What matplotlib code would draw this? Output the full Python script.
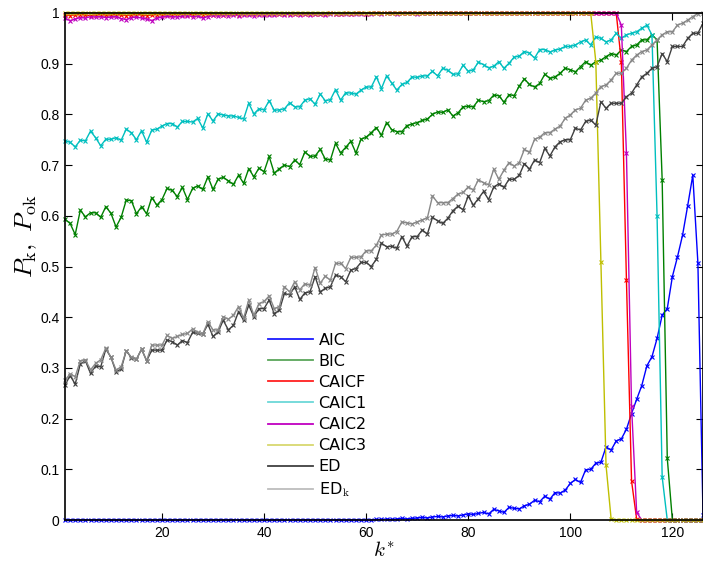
import numpy as np
import matplotlib
matplotlib.use('Agg')
import matplotlib.pyplot as plt
from matplotlib.lines import Line2D

plt.rcParams['mathtext.fontset'] = 'cm'

k = np.arange(1, 127)

aic = ([0.0] * 60 +
       [0.0, 0.001, 0.001, 0.002, 0.001, 0.002, 0.003, 0.002, 0.003, 0.004, 0.005,
        0.004, 0.006, 0.007, 0.006, 0.008, 0.009, 0.008, 0.010, 0.012, 0.011, 0.013,
        0.015, 0.012, 0.021, 0.018, 0.015, 0.025, 0.023, 0.022, 0.028, 0.031,
        0.039, 0.036, 0.047, 0.041, 0.054, 0.053, 0.059, 0.072, 0.080, 0.074,
        0.099, 0.100, 0.112, 0.114, 0.144, 0.138, 0.156, 0.160, 0.179, 0.210,
        0.238, 0.265, 0.304, 0.322, 0.358, 0.404, 0.417, 0.480, 0.519, 0.562,
        0.620, 0.680, 0.507, 0.010])

bic = [0.593, 0.585, 0.563, 0.611, 0.598, 0.606, 0.606, 0.597, 0.618, 0.605, 0.578,
       0.597, 0.631, 0.630, 0.604, 0.618, 0.604, 0.636, 0.621, 0.632, 0.654, 0.650,
       0.638, 0.656, 0.632, 0.654, 0.659, 0.652, 0.677, 0.652, 0.672, 0.676, 0.669,
       0.662, 0.680, 0.664, 0.693, 0.677, 0.694, 0.687, 0.717, 0.684, 0.693, 0.700,
       0.697, 0.710, 0.701, 0.726, 0.717, 0.718, 0.731, 0.712, 0.710, 0.743, 0.724,
       0.735, 0.747, 0.724, 0.751, 0.755, 0.764, 0.774, 0.759, 0.784, 0.770,
       0.766, 0.766, 0.778, 0.781, 0.784, 0.788, 0.791, 0.800, 0.805, 0.804, 0.809,
       0.797, 0.803, 0.815, 0.816, 0.815, 0.828, 0.825, 0.827, 0.838, 0.837, 0.824,
       0.839, 0.837, 0.856, 0.870, 0.859, 0.854, 0.861, 0.879, 0.871, 0.874, 0.881,
       0.891, 0.888, 0.884, 0.894, 0.904, 0.897, 0.904, 0.907, 0.914, 0.920, 0.917,
       0.927, 0.924, 0.934, 0.937, 0.947, 0.947, 0.957, 0.947,
       0.671, 0.122, 0, 0, 0, 0, 0, 0, 0]

caicf = ([0.996, 0.995, 0.996, 0.997, 0.996, 0.995, 0.996, 0.997, 0.996, 0.996,
          0.997, 0.996, 0.995, 0.996, 0.997, 0.996, 0.995, 0.996, 0.997, 0.997,
          0.996, 0.997, 0.998, 0.997, 0.996, 0.997, 0.998, 0.997, 0.998, 0.997,
          0.998, 0.997, 0.998, 0.998, 0.997, 0.998, 0.999, 0.998, 0.998, 0.999,
          0.998, 0.999, 0.998, 0.999, 0.999, 0.998, 0.999, 0.999, 0.999, 0.999,
          0.999, 0.999, 1.0, 0.999, 0.999, 1.0, 0.999, 1.0, 1.0, 0.999] +
         [1.0] * 49 +
         [0.904, 0.473, 0.077, 0.002] + [0.0] * 13)

caic1 = [0.748, 0.745, 0.736, 0.749, 0.748, 0.767, 0.754, 0.738, 0.751, 0.751, 0.754,
         0.749, 0.771, 0.764, 0.750, 0.768, 0.745, 0.769, 0.771, 0.777, 0.782, 0.782,
         0.775, 0.786, 0.786, 0.785, 0.792, 0.773, 0.801, 0.787, 0.801, 0.799, 0.797,
         0.797, 0.794, 0.791, 0.822, 0.801, 0.811, 0.809, 0.827, 0.808, 0.809, 0.811,
         0.823, 0.815, 0.815, 0.828, 0.831, 0.820, 0.840, 0.827, 0.829, 0.849, 0.828,
         0.843, 0.842, 0.840, 0.848, 0.854, 0.854, 0.874, 0.851, 0.876, 0.862,
         0.848, 0.859, 0.863, 0.874, 0.873, 0.876, 0.876, 0.885, 0.876, 0.891, 0.887,
         0.879, 0.880, 0.897, 0.885, 0.888, 0.903, 0.898, 0.892, 0.895, 0.904, 0.891,
         0.901, 0.913, 0.915, 0.924, 0.921, 0.911, 0.928, 0.928, 0.923, 0.927, 0.929,
         0.934, 0.934, 0.937, 0.943, 0.947, 0.937, 0.953, 0.950, 0.943, 0.947, 0.960,
         0.950, 0.957, 0.960, 0.963, 0.970, 0.976, 0.957,
         0.600, 0.085, 0, 0, 0, 0, 0, 0, 0, 0]

caic2 = ([0.990, 0.985, 0.988, 0.991, 0.990, 0.993, 0.992, 0.993, 0.991, 0.992,
          0.993, 0.989, 0.987, 0.991, 0.992, 0.990, 0.988, 0.985, 0.990, 0.992,
          0.994, 0.993, 0.992, 0.994, 0.995, 0.993, 0.994, 0.990, 0.993, 0.996,
          0.994, 0.996, 0.995, 0.996, 0.995, 0.997, 0.996, 0.995, 0.997, 0.996,
          0.997, 0.996, 0.998, 0.997, 0.997, 0.998, 0.997, 0.998, 0.997, 0.998,
          0.998, 0.997, 0.998, 0.999, 0.998, 0.998, 0.999, 0.998, 0.999, 0.999] +
         [0.999, 1.0, 0.999, 1.0, 1.0, 0.999, 1.0, 1.0, 1.0, 0.999] +
         [1.0] * 39 +
         [0.976, 0.723, 0.224, 0.015] + [0.0] * 13)

caic3 = [1.0] * 104 + [0.904, 0.508, 0.108, 0.002] + [0.0] * 18

ed = [0.266, 0.285, 0.268, 0.308, 0.314, 0.289, 0.304, 0.302, 0.337, 0.321, 0.292,
      0.298, 0.334, 0.320, 0.317, 0.337, 0.314, 0.335, 0.335, 0.335, 0.355, 0.352,
      0.345, 0.354, 0.350, 0.370, 0.368, 0.367, 0.386, 0.362, 0.371, 0.394, 0.375,
      0.384, 0.411, 0.394, 0.424, 0.401, 0.417, 0.417, 0.434, 0.407, 0.414, 0.447,
      0.444, 0.460, 0.435, 0.448, 0.450, 0.480, 0.450, 0.457, 0.460, 0.483, 0.480,
      0.470, 0.493, 0.496, 0.508, 0.508, 0.500, 0.514, 0.546, 0.539, 0.540,
      0.536, 0.559, 0.540, 0.559, 0.559, 0.572, 0.564, 0.597, 0.590, 0.585, 0.595,
      0.610, 0.619, 0.612, 0.639, 0.621, 0.634, 0.648, 0.632, 0.657, 0.663, 0.656,
      0.672, 0.672, 0.680, 0.703, 0.692, 0.710, 0.705, 0.733, 0.718, 0.736, 0.746,
      0.750, 0.750, 0.773, 0.769, 0.786, 0.789, 0.779, 0.825, 0.812, 0.822, 0.822,
      0.822, 0.835, 0.842, 0.858, 0.874, 0.881, 0.891, 0.894, 0.920, 0.904, 0.934,
      0.934, 0.934, 0.950, 0.960, 0.960, 0.980]

ed_k = [0.276, 0.288, 0.283, 0.314, 0.316, 0.296, 0.309, 0.316, 0.339, 0.321, 0.296,
        0.302, 0.334, 0.321, 0.317, 0.337, 0.314, 0.345, 0.345, 0.345, 0.364, 0.358,
        0.362, 0.366, 0.368, 0.377, 0.370, 0.367, 0.391, 0.375, 0.375, 0.401, 0.396,
        0.404, 0.421, 0.398, 0.434, 0.404, 0.427, 0.431, 0.442, 0.417, 0.421, 0.460,
        0.450, 0.470, 0.454, 0.466, 0.463, 0.498, 0.467, 0.481, 0.473, 0.506, 0.506,
        0.496, 0.518, 0.518, 0.519, 0.531, 0.531, 0.542, 0.562, 0.564, 0.564,
        0.569, 0.588, 0.586, 0.584, 0.588, 0.592, 0.596, 0.639, 0.626, 0.626, 0.626,
        0.634, 0.643, 0.646, 0.657, 0.651, 0.671, 0.665, 0.661, 0.692, 0.672, 0.690,
        0.705, 0.698, 0.705, 0.731, 0.725, 0.751, 0.755, 0.764, 0.764, 0.771, 0.777,
        0.792, 0.799, 0.809, 0.812, 0.828, 0.832, 0.842, 0.855, 0.858, 0.868, 0.881,
        0.881, 0.891, 0.907, 0.917, 0.924, 0.927, 0.937, 0.947, 0.957, 0.963, 0.963,
        0.976, 0.980, 0.986, 0.993, 0.999, 1.0]

names = ['AIC', 'BIC', 'CAICF', 'CAIC1', 'CAIC2', 'CAIC3', 'ED', r'ED$_\mathrm{k}$']
series = [aic, bic, caicf, caic1, caic2, caic3, ed, ed_k]
colors = ['#0000ff', '#008000', '#ff0000', '#00bfbf', '#bf00bf', '#bfbf00', '#404040', '#888888']
leg_colors = ['#1a1aff', '#5aa65a', '#ff2020', '#6cd8d8', '#c000c0', '#d8d870', '#404040', '#bdbdbd']

fig = plt.figure(figsize=(7.03, 5.61), dpi=100)
ax = fig.add_axes([65 / 703, 41 / 561, 638 / 703, 507 / 561])

for y, c in zip(series, colors):
    ax.plot(k, y, color=c, lw=1.0, marker='x', ms=3, mew=0.8, clip_on=False)

ax.set_xlim(1, 126)
ax.set_ylim(0, 1)
ax.set_xticks([20, 40, 60, 80, 100, 120])
ax.set_yticks(np.arange(0, 1.01, 0.1))
ax.set_yticklabels(['0', '0.1', '0.2', '0.3', '0.4', '0.5', '0.6', '0.7', '0.8', '0.9', '1'])
ax.tick_params(direction='in', length=5, width=0.8, top=True, right=True,
               labelsize=10, pad=4)
for lab in ax.get_xticklabels() + ax.get_yticklabels():
    lab.set_family('Liberation Sans')
for s in ax.spines.values():
    s.set_linewidth(1.2)

ax.set_xlabel(r'$k^{*}$', fontsize=15, labelpad=0)
ax.set_ylabel(r'$P_\mathrm{k},\ P_\mathrm{ok}$', fontsize=18.5)
ax.yaxis.set_label_coords(-0.04, 0.56)

handles = [Line2D([0], [0], color=c, lw=1.3) for c in leg_colors]
ax.legend(handles, names, loc='upper left', bbox_to_anchor=(0.296, 0.398),
          frameon=False, handlelength=2.8, handletextpad=0.35,
          labelspacing=0.385, prop={'family': 'DejaVu Sans', 'size': 11.5})

fig.savefig('out.png', dpi=100)
